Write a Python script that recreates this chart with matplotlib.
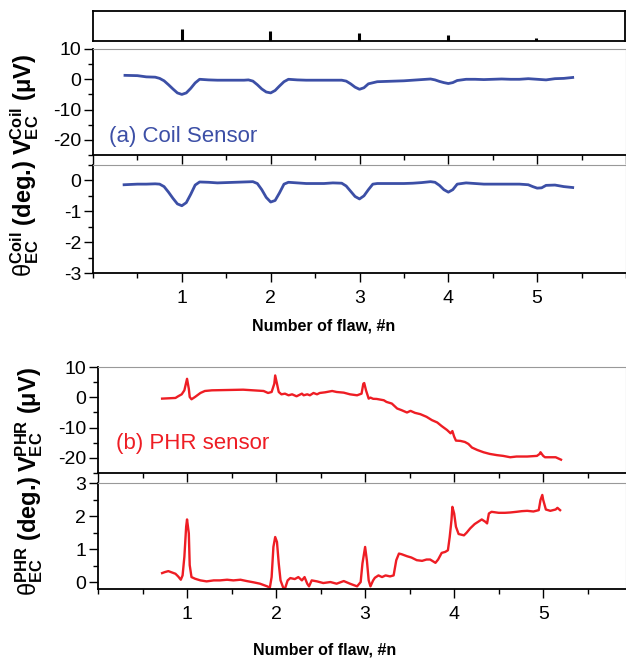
import numpy as np
import matplotlib
matplotlib.use("Agg")
import matplotlib.pyplot as plt
from matplotlib.ticker import MultipleLocator

plt.rcParams['font.family'] = ['Liberation Sans', 'DejaVu Sans']
plt.rcParams['mathtext.fontset'] = 'custom'
plt.rcParams['mathtext.rm'] = 'Liberation Sans'
plt.rcParams['mathtext.bf'] = 'Liberation Sans:bold'
plt.rcParams['mathtext.it'] = 'Liberation Sans:italic'
plt.rcParams['axes.unicode_minus'] = False

# flaw markers (relative depth) for the strip on top
flaw_pos = [1, 2, 3, 4, 5]
flaw_depth = [0.40, 0.33, 0.27, 0.20, 0.10]

# (a) coil sensor, amplitude
coil_v_x = [0.36, 0.5, 0.6, 0.7, 0.75, 0.8, 0.85, 0.9, 0.95, 1.0, 1.05, 1.1, 1.15, 1.2, 1.3, 1.4,
            1.5, 1.6, 1.7, 1.75, 1.8, 1.85, 1.9, 1.95, 2.0, 2.05, 2.1, 2.15, 2.2, 2.3, 2.4, 2.5,
            2.6, 2.7, 2.8, 2.85, 2.9, 2.95, 3.0, 3.05, 3.1, 3.2, 3.3, 3.4, 3.5, 3.6, 3.7, 3.8,
            3.85, 3.9, 3.95, 4.0, 4.05, 4.1, 4.2, 4.3, 4.4, 4.5, 4.6, 4.7, 4.8, 4.9, 5.0, 5.1,
            5.2, 5.3, 5.4]
coil_v_y = [1.3, 1.2, 0.8, 0.7, 0.3, -0.5, -1.8, -3.2, -4.5, -5.0, -4.5, -3.0, -1.2, 0.0, -0.2, -0.3,
            -0.3, -0.3, -0.3, -0.2, -0.6, -1.8, -3.2, -4.2, -4.5, -3.7, -2.2, -0.8, 0.0, -0.2, -0.3, -0.3,
            -0.3, -0.3, -0.3, -0.6, -1.5, -2.6, -3.3, -2.8, -1.5, -0.8, -0.7, -0.6, -0.5, -0.3, -0.1, 0.1,
            -0.2, -0.7, -1.1, -1.4, -1.1, -0.4, 0.0, 0.0, -0.1, 0.0, 0.1, 0.0, 0.0, 0.2, 0.0, -0.2,
            0.2, 0.3, 0.6]

# (a) coil sensor, phase
coil_t_x = [0.35, 0.5, 0.6, 0.7, 0.75, 0.8, 0.85, 0.9, 0.95, 1.0, 1.05, 1.1, 1.15, 1.2, 1.3, 1.4,
            1.5, 1.6, 1.7, 1.8, 1.85, 1.9, 1.95, 2.0, 2.05, 2.1, 2.15, 2.2, 2.3, 2.4, 2.5, 2.6,
            2.7, 2.8, 2.85, 2.9, 2.95, 3.0, 3.05, 3.1, 3.15, 3.2, 3.3, 3.4, 3.5, 3.6, 3.7, 3.8,
            3.85, 3.9, 3.95, 4.0, 4.05, 4.1, 4.2, 4.3, 4.4, 4.5, 4.6, 4.7, 4.8, 4.9, 4.95, 5.0,
            5.05, 5.1, 5.2, 5.3, 5.4]
coil_t_y = [-0.14, -0.12, -0.12, -0.11, -0.12, -0.2, -0.38, -0.58, -0.76, -0.82, -0.72, -0.45, -0.15, -0.05, -0.06, -0.08,
            -0.07, -0.06, -0.05, -0.04, -0.1, -0.3, -0.55, -0.7, -0.65, -0.4, -0.12, -0.06, -0.08, -0.1, -0.1, -0.1,
            -0.08, -0.09, -0.18, -0.35, -0.52, -0.6, -0.5, -0.3, -0.12, -0.1, -0.1, -0.1, -0.1, -0.09, -0.07, -0.04,
            -0.06, -0.16, -0.3, -0.38, -0.3, -0.12, -0.08, -0.1, -0.12, -0.12, -0.12, -0.12, -0.12, -0.14, -0.2, -0.25,
            -0.24, -0.16, -0.15, -0.2, -0.23]

# (b) PHR sensor, amplitude
phr_v_x = [0.72, 0.87, 0.9, 0.94, 0.97, 1.0, 1.02, 1.03, 1.05, 1.09, 1.15, 1.2, 1.28, 1.63, 1.86, 1.91,
           1.95, 1.98, 1.99, 2.01, 2.03, 2.06, 2.1, 2.14, 2.18, 2.23, 2.29, 2.31, 2.35, 2.38, 2.42, 2.46,
           2.49, 2.55, 2.63, 2.68, 2.76, 2.83, 2.91, 2.96, 2.98, 2.99, 3.01, 3.04, 3.06, 3.09, 3.13, 3.21,
           3.24, 3.3, 3.36, 3.41, 3.47, 3.51, 3.56, 3.62, 3.69, 3.75, 3.81, 3.86, 3.92, 3.96, 3.98, 4.0,
           4.02, 4.07, 4.12, 4.16, 4.2, 4.26, 4.33, 4.4, 4.48, 4.55, 4.63, 4.7, 4.82, 4.93, 4.96, 4.97,
           5.0, 5.02, 5.14, 5.17, 5.2]
phr_v_y = [-0.44, -0.22, 0.33, 0.98, 2.3, 6.1, 2.8, 0.11, -0.66, 0.11, 1.42, 2.08, 2.3, 2.51, 2.08, 1.42,
           1.75, 4.48, 7.21, 4.48, 1.75, 0.98, 1.2, 0.66, 0.98, 0.33, 1.2, 0.66, 0.98, 0.66, 1.42, 0.98,
           1.42, 1.64, 2.08, 1.75, 1.53, 0.98, 0.66, 1.2, 4.48, 4.7, 2.3, -0.44, -0.11, -0.5, -0.55, -0.98,
           -1.53, -2.07, -3.71, -4.26, -5.03, -4.48, -5.14, -5.57, -6.45, -7.54, -8.31, -9.51, -10.8, -11.9, -11.15, -13.0,
           -14.3, -14.4, -14.75, -15.4, -16.6, -17.4, -18.15, -18.7, -19.1, -19.35, -19.8, -19.56, -19.56, -19.35, -18.7, -18.15,
           -19.35, -19.8, -19.8, -20.2, -20.6]

# (b) PHR sensor, phase
phr_t_x = [0.72, 0.75, 0.79, 0.83, 0.87, 0.9, 0.93, 0.95, 0.97, 0.99, 1.0, 1.02, 1.03, 1.05, 1.09, 1.15,
           1.22, 1.3, 1.37, 1.45, 1.52, 1.6, 1.67, 1.75, 1.82, 1.9, 1.93, 1.95, 1.97, 1.99, 2.01, 2.03,
           2.05, 2.08, 2.1, 2.13, 2.16, 2.21, 2.25, 2.29, 2.32, 2.35, 2.37, 2.4, 2.46, 2.53, 2.61, 2.68,
           2.76, 2.83, 2.91, 2.95, 2.97, 3.0, 3.02, 3.04, 3.06, 3.09, 3.11, 3.15, 3.19, 3.23, 3.28, 3.32,
           3.35, 3.38, 3.41, 3.47, 3.52, 3.58, 3.64, 3.69, 3.73, 3.79, 3.82, 3.86, 3.9, 3.93, 3.95, 3.97,
           3.98, 4.0, 4.02, 4.05, 4.11, 4.14, 4.18, 4.23, 4.27, 4.31, 4.35, 4.37, 4.39, 4.42, 4.5, 4.57,
           4.63, 4.7, 4.76, 4.82, 4.89, 4.95, 4.97, 4.99, 5.0, 5.03, 5.08, 5.14, 5.16, 5.19]
phr_t_y = [0.28, 0.31, 0.34, 0.3, 0.26, 0.18, 0.08, 0.21, 0.77, 1.68, 1.9, 1.48, 0.52, 0.16, 0.11, 0.06,
           0.03, 0.06, 0.06, 0.08, 0.06, 0.08, 0.04, 0.0, -0.04, -0.12, -0.16, 0.16, 1.07, 1.37, 1.22, 0.57,
           0.06, -0.16, -0.19, 0.06, 0.13, 0.1, 0.16, 0.06, 0.16, -0.04, -0.12, 0.06, 0.03, -0.02, 0.01, -0.04,
           0.04, -0.04, -0.12, 0.01, 0.57, 1.07, 0.66, 0.06, -0.12, 0.06, 0.14, 0.21, 0.16, 0.21, 0.18, 0.21,
           0.67, 0.87, 0.85, 0.79, 0.75, 0.67, 0.65, 0.69, 0.69, 0.59, 0.69, 0.89, 0.92, 0.97, 1.37, 1.88,
           2.28, 2.08, 1.68, 1.46, 1.42, 1.5, 1.63, 1.76, 1.83, 1.9, 1.83, 1.78, 2.08, 2.13, 2.1, 2.1,
           2.11, 2.13, 2.15, 2.16, 2.14, 2.18, 2.49, 2.64, 2.49, 2.2, 2.16, 2.2, 2.25, 2.18]

blue = '#3c4fa6'
red = '#ee1d24'

fig = plt.figure(figsize=(6.26, 6.61), dpi=100)
H = 661.0
W = 626.0


def box(left, top, bottom, right=626):
    return [left / W, 1 - bottom / H, (right - left) / W, (bottom - top) / H]


ax0 = fig.add_axes(box(93, 11, 41, 625))
ax1 = fig.add_axes(box(93, 49, 155))
ax2 = fig.add_axes(box(93, 165, 273))
ax3 = fig.add_axes(box(98, 367, 473))
ax4 = fig.add_axes(box(98, 483, 589))

# top strip with flaw depths
ax0.vlines(flaw_pos, 0, flaw_depth, color='black', lw=2.2)
ax0.set_xlim(0, 6)
ax0.set_ylim(0, 1)
ax0.set_xticks([])
ax0.set_yticks([])
for s in ax0.spines.values():
    s.set_linewidth(1.3)

ax1.plot(coil_v_x, coil_v_y, color=blue, lw=2.0)
ax2.plot(coil_t_x, coil_t_y, color=blue, lw=2.0)
ax3.plot(phr_v_x, phr_v_y, color=red, lw=1.7)
ax4.plot(phr_t_x, phr_t_y, color=red, lw=1.7)

for ax in [ax1, ax2, ax3, ax4]:
    ax.spines['top'].set_color('#999999')
    ax.spines['right'].set_color('#999999')
    ax.spines['left'].set_linewidth(1.3)
    ax.spines['bottom'].set_linewidth(1.3)
    ax.xaxis.set_major_locator(MultipleLocator(1))
    ax.xaxis.set_minor_locator(MultipleLocator(0.5))
    ax.tick_params(which='major', direction='out', length=6.5, width=1.0, labelsize=14)
    ax.tick_params(which='minor', direction='out', length=3.5, width=1.0)
    ax.tick_params(axis='y', pad=2)

for ax in [ax1, ax3]:
    ax.yaxis.set_major_locator(MultipleLocator(10))
    ax.yaxis.set_minor_locator(MultipleLocator(5))
    ax.tick_params(axis='x', labelbottom=False)
for ax in [ax2, ax4]:
    ax.yaxis.set_major_locator(MultipleLocator(1))
    ax.yaxis.set_minor_locator(MultipleLocator(0.5))
    ax.set_xticks([1, 2, 3, 4, 5])
    ax.tick_params(axis='x', pad=6)

ax1.set_ylim(-25, 10)
ax2.set_ylim(-3, 0.5)
ax3.set_ylim(-25, 10)
ax4.set_ylim(-0.2, 3)
ax1.set_xlim(0, 6)
ax2.set_xlim(0, 6)
ax3.set_xlim(0, 5.93)
ax4.set_xlim(0, 5.93)

lab = dict(fontsize=17, fontweight='bold', rotation=90, ha='center', va='center')
fig.text(25 / W, 1 - 104 / H, r'$\mathbf{V}_{\mathbf{EC}}^{\mathbf{Coil}}$ (μV)', **lab)
fig.text(25 / W, 1 - 219 / H, r'$\mathrm{θ}_{\mathbf{EC}}^{\mathbf{Coil}}$ (deg.)', **lab)
fig.text(29 / W, 1 - 420 / H, r'$\mathbf{V}_{\mathbf{EC}}^{\mathbf{PHR}}$ (μV)', **lab)
fig.text(29 / W, 1 - 536 / H, r'$\mathrm{θ}_{\mathbf{EC}}^{\mathbf{PHR}}$ (deg.)', **lab)

xl = dict(fontsize=11.5, fontweight='bold', ha='center', va='center')
fig.text(324 / W, 1 - 326 / H, 'Number of flaw, #n', **xl)
fig.text(325 / W, 1 - 650 / H, 'Number of flaw, #n', **xl)

ax1.text(0.03, 0.17, '(a) Coil Sensor', transform=ax1.transAxes, color=blue,
         fontsize=16, ha='left', va='center')
ax3.text(0.034, 0.283, '(b) PHR sensor', transform=ax3.transAxes, color=red,
         fontsize=16, ha='left', va='center')

fig.savefig('out.png', dpi=100)
